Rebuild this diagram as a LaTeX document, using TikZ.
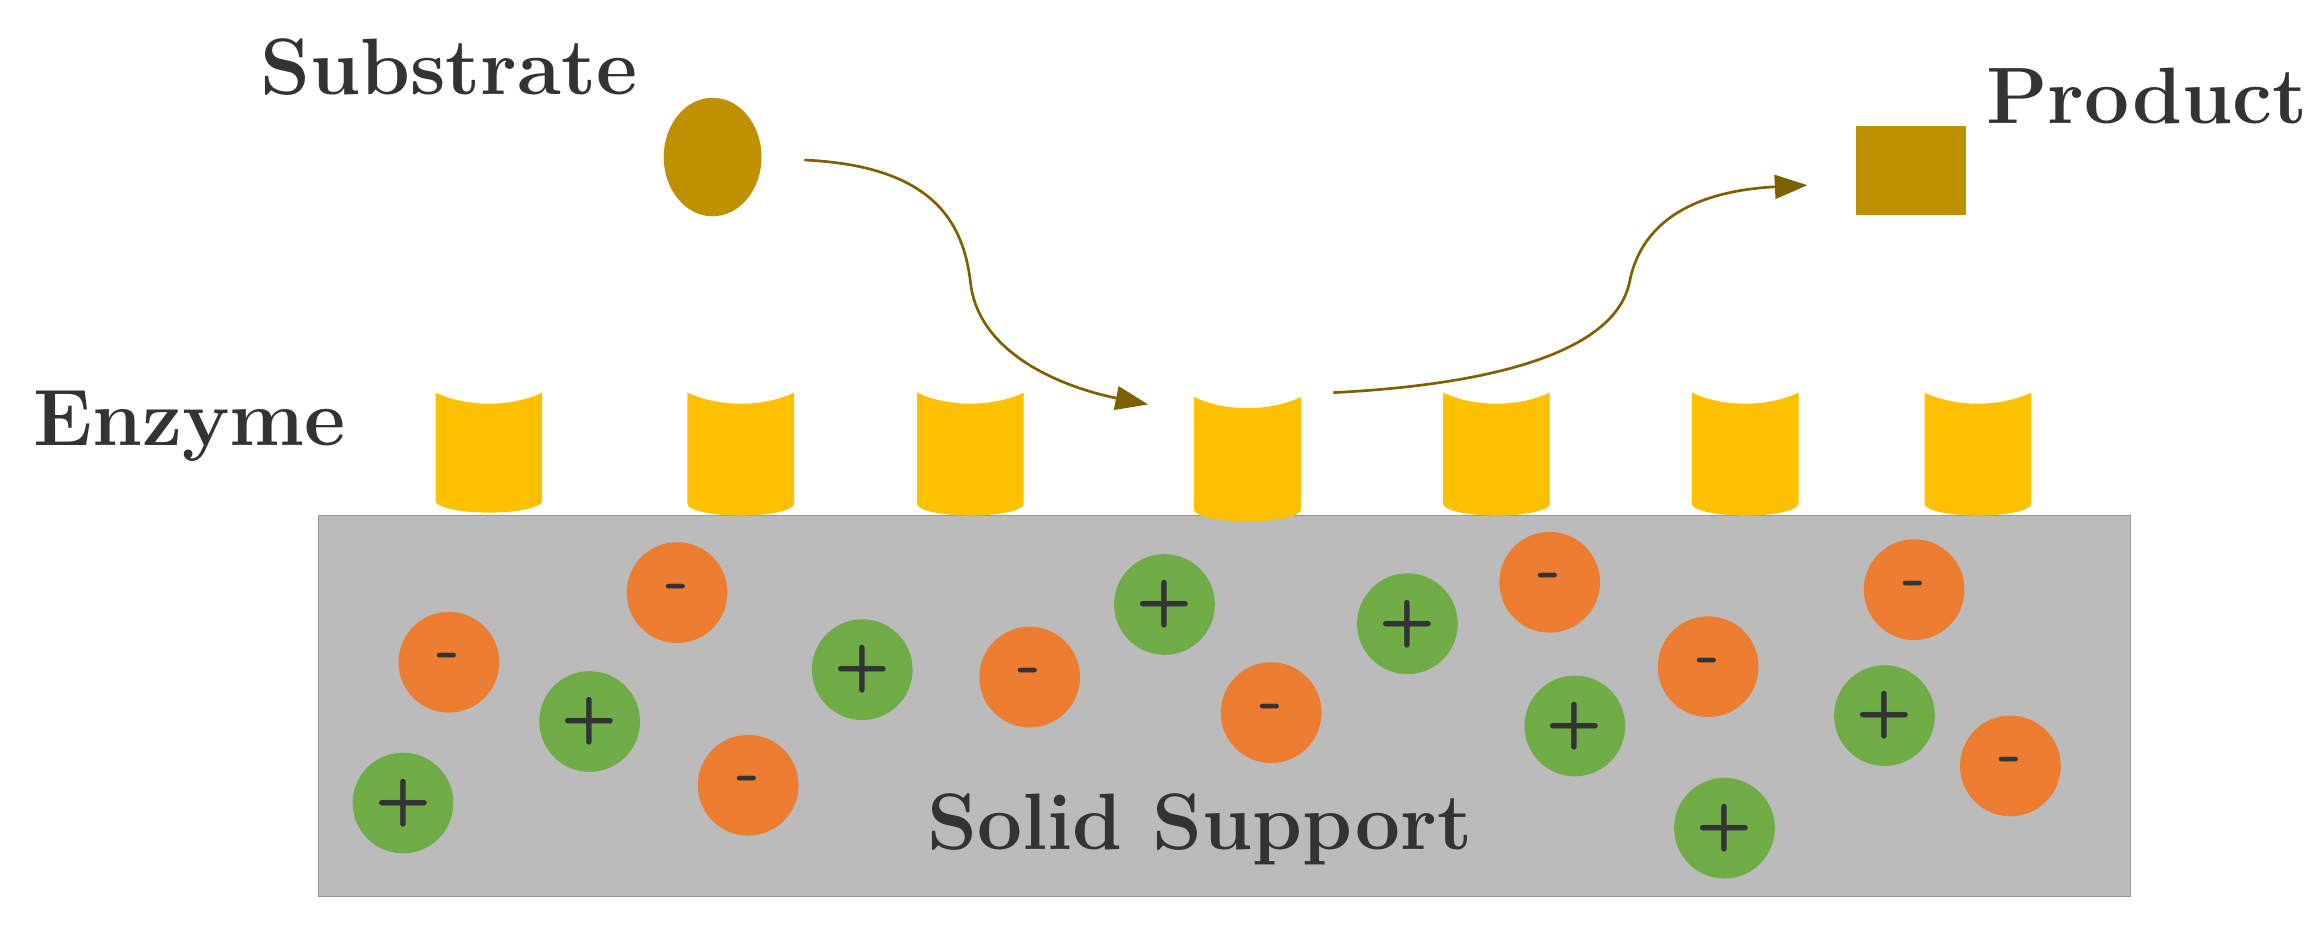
\documentclass[tikz,border=0pt]{standalone}
\usetikzlibrary{arrows.meta,shapes.geometric}
\definecolor{sup}{HTML}{BBBBBB}
\definecolor{enz}{HTML}{FFC000}
\definecolor{sub}{HTML}{BF9000}
\definecolor{arr}{HTML}{7F6000}
\definecolor{neg}{HTML}{ED7D31}
\definecolor{pos}{HTML}{70AD47}
\definecolor{txt}{HTML}{333333}
\begin{document}
\begin{tikzpicture}[x=0.5pt,y=-0.5pt,
 lbl/.style={font=\fontsize{27}{30}\selectfont\bfseries,text=txt},
 negc/.style={circle,fill=neg,minimum size=34pt,inner sep=0pt,font=\fontsize{22}{24}\selectfont\sffamily\bfseries,text=txt},
 posc/.style={circle,fill=pos,minimum size=34pt,inner sep=0pt,font=\fontsize{22}{24}\selectfont\sffamily\bfseries,text=txt},
 conn/.style={arr,line width=0.9pt,-{Triangle[length=11pt,width=8pt]}}]
\useasboundingbox (0,0) rectangle (1568,628);
\fill[sup,draw=gray!80] (215,348) rectangle (1438,605);
\foreach \x/\t/\b in {330/265/338,500/265/340,655/265/340,842/268/344,1010/265/340,1178/265/340,1335/265/340}{
 \fill[enz] (\x-36,\t) -- (\x-36,\b) arc[start angle=180,end angle=360,x radius=36,y radius=-8] -- (\x+36,\t) .. controls (\x+15,\t+10) and (\x-15,\t+10) .. (\x-36,\t);
}
\node[ellipse,fill=sub,minimum width=33pt,minimum height=40pt,inner sep=0pt,draw=none] (s) at (481,106) {};
\node[fill=sub,minimum width=37pt,minimum height=30pt,inner sep=0pt] (p) at (1290,115) {};
\node[lbl] (ls) at (303,45) {Substrate};
\node[lbl] (lp) at (1449,65) {Product};
\node[lbl] (le) at (128,288) {Enzyme};
\node[lbl] (lss) at (810,560) {Solid Support};
\coordinate (a1) at (543,108); \coordinate (a2) at (775,273);
\coordinate (b1) at (900,265); \coordinate (b2) at (1220,125);
\draw[conn] (a1) .. controls (630,112) and (650,150) .. (655,190) .. controls (660,240) and (720,262) .. (a2);
\draw[conn] (b1) .. controls (1000,260) and (1090,240) .. (1100,190) .. controls (1110,140) and (1160,128) .. (b2);
\foreach \n/\x/\y in {n1/303/447,n2/457/400,n3/505/530,n4/695/457,n5/858/481,n6/1046/393,n7/1153/450,n8/1292/398,n9/1357/517}
 \node[negc] (\n) at (\x,\y) {-};
\foreach \n/\x/\y in {p1/272/542,p2/398/487,p3/582/452,p4/786/408,p5/950/421,p6/1063/490,p7/1272/483,p8/1164/559}
 \node[posc] (\n) at (\x,\y) {+};
\end{tikzpicture}
\end{document}
